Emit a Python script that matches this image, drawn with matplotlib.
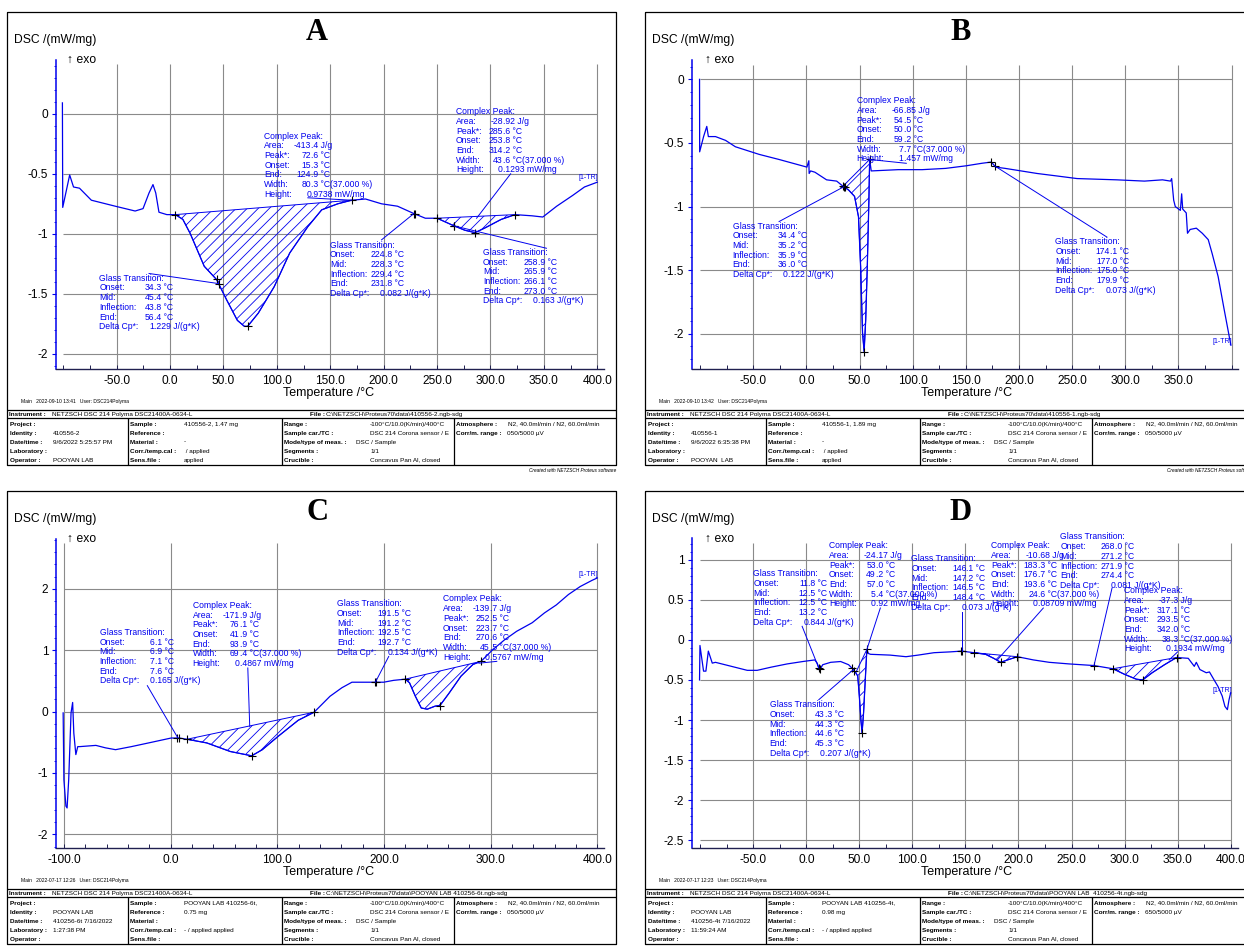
import numpy as np
import matplotlib
matplotlib.use("Agg")
import matplotlib.pyplot as plt
from matplotlib.ticker import MultipleLocator, FixedLocator, FuncFormatter
from matplotlib.transforms import offset_copy

plt.rcParams['font.family'] = ['Liberation Sans', 'DejaVu Sans']
plt.rcParams['hatch.linewidth'] = 0.6

W, H = 1244, 946
BLUE = '#0000ee'
NOTE_FS = 6.2
PITCH = 9.7
TFS = 4.6

# ---- DSC curves (T in degC, DSC in mW/mg)
a_temp = [-100.8, -100.5, -94, -90.4, -84.8, -73.7, -51.3, -32.7, -25.3, -19.7, -16, -13.4,
          -10.4, -3, 5, 12, 19, 32, 43.5, 53, 63, 69.6, 72.6, 82.6, 97.5, 112, 129, 142, 157,
          170, 183, 198, 213, 228, 239, 250, 265, 276, 285.6, 295, 310, 323, 339, 349, 362,
          377, 388, 400]
a_dsc = [0.09, -0.78, -0.51, -0.61, -0.62, -0.72, -0.77, -0.81, -0.79, -0.66, -0.59, -0.66,
         -0.82, -0.84, -0.84, -0.88, -1.0, -1.27, -1.38, -1.55, -1.72, -1.77, -1.77, -1.66,
         -1.44, -1.16, -0.94, -0.80, -0.75, -0.72, -0.71, -0.75, -0.77, -0.83, -0.87, -0.87,
         -0.93, -0.97, -0.99, -0.95, -0.88, -0.84, -0.85, -0.86, -0.77, -0.68, -0.61, -0.57]

b_temp = [-100.5, -100.4, -96.7, -93.7, -92.2, -85.5, -76, -66.8, -44.4, -25.7, 0.5, 2.3, 2.6,
          4, 8, 19, 28.5, 34.4, 39.7, 45.3, 49, 51, 52.8, 54.3, 55.8, 57.3, 58.8, 59.5, 61,
          86.4, 108.9, 131, 150, 165, 174, 178, 187, 217, 236, 254.6, 292, 318, 335, 342.5,
          343.6, 345.5, 347, 351.8, 353, 354, 357.3, 358.5, 361, 366.8, 372.4, 378, 381.7,
          387.3, 393, 399.3]
b_dsc = [0.0, -0.57, -0.45, -0.37, -0.45, -0.45, -0.48, -0.53, -0.59, -0.63, -0.69, -0.64,
         -0.74, -0.72, -0.73, -0.79, -0.80, -0.84, -0.87, -0.92, -1.08, -1.47, -1.99, -2.14,
         -1.89, -1.47, -0.95, -0.63, -0.72, -0.71, -0.71, -0.70, -0.68, -0.66, -0.65, -0.69,
         -0.70, -0.74, -0.76, -0.78, -0.79, -0.80, -0.79, -0.80, -0.78, -0.95, -1.00, -1.03,
         -0.90, -1.02, -1.05, -1.21, -1.18, -1.17, -1.21, -1.26, -1.37, -1.55, -1.81, -2.09]

c_temp = [-100.7, -100, -98.1, -97, -95.5, -93.3, -91.8, -90.7, -88.8, -87, -85, -70, -61,
          -51.6, -36.7, -18, 0.5, 8, 15.4, 34, 56, 76, 86, 101, 119.7, 134.5, 149.4, 160.6,
          170, 190.4, 199.7, 209, 220, 224, 229.5, 235, 240.6, 248, 252.5, 261, 272.3, 283.5,
          291, 302, 313, 324.4, 339, 350.5, 361.6, 373, 384, 395, 400]
c_dsc = [-0.02, -1.11, -1.54, -1.57, -1.11, -0.02, 0.15, -0.35, -0.70, -0.57, -0.57, -0.55,
         -0.59, -0.62, -0.57, -0.50, -0.43, -0.43, -0.45, -0.51, -0.65, -0.72, -0.62, -0.40,
         -0.14, -0.01, 0.25, 0.39, 0.48, 0.48, 0.48, 0.51, 0.53, 0.47, 0.25, 0.06, 0.04, 0.09,
         0.10, 0.30, 0.58, 0.77, 0.82, 1.01, 1.17, 1.31, 1.45, 1.61, 1.74, 1.91, 2.04, 2.14, 2.18]

d_temp = [-100.6, -100.2, -98.3, -96.8, -94.6, -92.3, -88.6, -85.6, -70.6, -55.6, -46.3, -33,
          -18, -3.2, 8, 10.3, 12.5, 15.5, 23, 32.4, 39.9, 43.6, 46.6, 48.5, 50, 51.5, 52.6, 54,
          55.6, 57.1, 58.6, 60.5, 79, 94, 105.4, 120.4, 135.4, 146.6, 157.9, 169, 176.6, 183.3,
          189.7, 199, 214, 229, 247.7, 271, 289, 300, 311, 317, 326, 337.6, 349, 360, 365.7,
          367.6, 371, 377, 380, 384.4, 388, 392, 394.6, 396.9, 398.4, 400]
d_dsc = [-0.50, -0.07, -0.25, -0.39, -0.39, -0.14, -0.29, -0.28, -0.33, -0.38, -0.38, -0.34,
         -0.30, -0.27, -0.25, -0.29, -0.38, -0.31, -0.28, -0.27, -0.31, -0.36, -0.41, -0.45,
         -0.70, -1.0, -1.16, -0.91, -0.50, -0.12, -0.17, -0.18, -0.19, -0.21, -0.19, -0.16,
         -0.15, -0.14, -0.16, -0.18, -0.23, -0.28, -0.25, -0.21, -0.25, -0.28, -0.30, -0.32,
         -0.36, -0.43, -0.49, -0.50, -0.41, -0.31, -0.22, -0.23, -0.33, -0.28, -0.37, -0.41,
         -0.40, -0.50, -0.58, -0.70, -0.83, -0.87, -0.75, -0.66]

# integrated peak limits (degC) and "+" evaluation points
a_peaks = [(5, 170), (250, 323)]
b_peaks = [(34.4, 59.5)]
c_peaks = [(15.4, 134.5), (220, 291)]
d_peaks = [(46.6, 57.1), (157.9, 199), (289, 349)]

a_marks = [5, 170, 72.6, 45.4, 43.5, 228.3, 229.4, 250, 323, 285.6, 265.9, 266.1]
b_marks = [34.4, 35.2, 36.0, 54.3, 59.5, 174.1, 177.0]
c_marks = [6.1, 7.6, 15.4, 76.1, 134.5, 191.5, 192.5, 220, 252.5, 291]
d_marks = [11.8, 13.2, 43.3, 45.3, 52.6, 57.1, 146.1, 146.6, 157.9, 183.3, 199, 271.2, 289,
           317, 349]

peak_keys = ['Area:', 'Peak*:', 'Onset:', 'End:', 'Width:', 'Height:']
gt_keys = ['Onset:', 'Mid:', 'Inflection:', 'End:', 'Delta Cp*:']

# result boxes: (kind, values, text anchor, leader start, leader end T, leader end y or None)
a_notes = [
    ('peak', ['-413.4 J/g', '72.6 °C', '15.3 °C', '124.9 °C', '80.3 °C(37.000 %)', '0.9738 mW/mg'],
     (88.2, -0.186), (129, -0.70), 170, None),
    ('gt', ['34.3 °C', '45.4 °C', '43.8 °C', '56.4 °C', '1.229 J/(g*K)'],
     (-66.2, -1.37), (-19.7, -1.33), 45.4, None),
    ('gt', ['224.8 °C', '228.3 °C', '229.4 °C', '231.8 °C', '0.082 J/(g*K)'],
     (149.6, -1.093), (198, -1.05), 228.3, None),
    ('peak', ['-28.92 J/g', '285.6 °C', '253.8 °C', '314.2 °C', '43.6 °C(37.000 %)', '0.1293 mW/mg'],
     (267.5, 0.017), (318.9, -0.50), 287, -0.87),
    ('gt', ['258.9 °C', '265.9 °C', '266.1 °C', '273.0 °C', '0.163 J/(g*K)'],
     (292.8, -1.154), (352.4, -1.12), 266.1, None),
]
b_notes = [
    ('peak', ['-66.85 J/g', '54.5 °C', '50.0 °C', '59.2 °C', '7.7 °C(37.000 %)', '1.457 mW/mg'],
     (47.2, -0.168), (94, -0.66), 59.5, None),
    ('gt', ['34.4 °C', '35.2 °C', '35.9 °C', '36.0 °C', '0.122 J/(g*K)'],
     (-69.4, -1.154), (-25.7, -1.118), 35.2, None),
    ('gt', ['174.1 °C', '177.0 °C', '175.0 °C', '179.9 °C', '0.073 J/(g*K)'],
     (234.1, -1.277), (282.7, -1.24), 177.0, None),
]
c_notes = [
    ('gt', ['6.1 °C', '6.9 °C', '7.1 °C', '7.6 °C', '0.165 J/(g*K)'],
     (-66.5, 1.293), (-21.8, 0.424), 6.9, None),
    ('peak', ['-171.9 J/g', '76.1 °C', '41.9 °C', '93.9 °C', '69.4 °C(37.000 %)', '0.4867 mW/mg'],
     (20.6, 1.734), (72.4, 0.712), 74.2, -0.24),
    ('gt', ['191.5 °C', '191.2 °C', '192.5 °C', '192.7 °C', '0.134 J/(g*K)'],
     (156.1, 1.76), (204.5, 0.90), 192.0, None),
    ('peak', ['-139.7 J/g', '252.5 °C', '223.7 °C', '270.6 °C', '45.5 °C(37.000 %)', '0.5767 mW/mg'],
     (255.2, 1.837), (305.8, 0.82), 289, 0.79),
]
d_notes = [
    ('gt', ['11.8 °C', '12.5 °C', '12.5 °C', '13.2 °C', '0.844 J/(g*K)'],
     (-50, 0.825), (-3.9, 0.169), 11.8, None),
    ('peak', ['-24.17 J/g', '53.0 °C', '49.2 °C', '57.0 °C', '5.4 °C(37.000 %)', '0.92 mW/mg'],
     (21.2, 1.175), (69.8, 0.397), 57.1, None),
    ('gt', ['146.1 °C', '147.2 °C', '146.5 °C', '148.4 °C', '0.073 J/(g*K)'],
     (99.1, 1.012), (146.6, 0.343), 146.6, None),
    ('peak', ['-10.68 J/g', '183.3 °C', '176.7 °C', '193.6 °C', '24.6 °C(37.000 %)', '0.08709 mW/mg'],
     (174, 1.175), (223.4, 0.397), 180.3, -0.247),
    ('gt', ['268.0 °C', '271.2 °C', '271.9 °C', '274.4 °C', '0.081 J/(g*K)'],
     (239.5, 1.283), (288.2, 0.647), 271.2, None),
    ('peak', ['-37.3 J/g', '317.1 °C', '293.5 °C', '342.0 °C', '38.3 °C(37.000 %)', '0.1934 mW/mg'],
     (299.4, 0.613), (350, -0.15), 342, -0.25),
    ('gt', ['43.3 °C', '44.3 °C', '44.6 °C', '45.3 °C', '0.207 J/(g*K)'],
     (-34.6, -0.808), (11.8, -0.746), 44.3, None),
]

# ---- measurement info tables
range_col = [('Range :', '-100°C/10.0(K/min)/400°C'), ('Sample car./TC :', 'DSC 214 Corona sensor / E'),
             ('Mode/type of meas. :', 'DSC / Sample'), ('Segments :', '1/1'),
             ('Crucible :', 'Concavus Pan Al, closed')]
instrument = 'NETZSCH DSC 214 Polyma DSC21400A-0634-L'

a_info = dict(
    main='Main   2022-09-10 13:41   User: DSC214Polyma',
    file='C:\\NETZSCH\\Proteus70\\data\\410556-2.ngb-sdg',
    col1=[('Project :', ''), ('Identity :', '410556-2'), ('Date/time :', '9/6/2022 5:25:57 PM'),
          ('Laboratory :', ''), ('Operator :', 'POOYAN LAB')],
    col2=[('Sample :', '410556-2, 1.47 mg'), ('Reference :', ''), ('Material :', '-'),
          ('Corr./temp.cal :', ' / applied'), ('Sens.file :', 'applied')],
    corr='050/5000 µV')
b_info = dict(
    main='Main   2022-09-10 13:42   User: DSC214Polyma',
    file='C:\\NETZSCH\\Proteus70\\data\\410556-1.ngb-sdg',
    col1=[('Project :', ''), ('Identity :', '410556-1'), ('Date/time :', '9/6/2022 6:35:38 PM'),
          ('Laboratory :', ''), ('Operator :', 'POOYAN  LAB')],
    col2=[('Sample :', '410556-1, 1.89 mg'), ('Reference :', ''), ('Material :', '-'),
          ('Corr./temp.cal :', ' / applied'), ('Sens.file :', 'applied')],
    corr='050/5000 µV')
c_info = dict(
    main='Main   2022-07-17 12:26   User: DSC214Polyma',
    file='C:\\NETZSCH\\Proteus70\\data\\POOYAN LAB 410256-6t.ngb-sdg',
    col1=[('Project :', ''), ('Identity :', 'POOYAN LAB'), ('Date/time :', '410256-6t 7/16/2022'),
          ('Laboratory :', '1:27:38 PM'), ('Operator :', '')],
    col2=[('Sample :', 'POOYAN LAB 410256-6t,'), ('Reference :', '0.75 mg'), ('Material :', ''),
          ('Corr./temp.cal :', '- / applied applied'), ('Sens.file :', '')],
    corr='050/5000 µV')
d_info = dict(
    main='Main   2022-07-17 12:23   User: DSC214Polyma',
    file='C:\\NETZSCH\\Proteus70\\data\\POOYAN LAB  410256-4t.ngb-sdg',
    col1=[('Project :', ''), ('Identity :', 'POOYAN LAB'), ('Date/time :', '410256-4t 7/16/2022'),
          ('Laboratory :', '11:59:24 AM'), ('Operator :', '')],
    col2=[('Sample :', 'POOYAN LAB 410256-4t,'), ('Reference :', '0.98 mg'), ('Material :', ''),
          ('Corr./temp.cal :', '- / applied applied'), ('Sens.file :', '')],
    corr='650/5000 µV')

panels = [
    dict(name='A', ox=7, oy=12, tx=317, rect=(56, 60, 604, 369), xlim=(-106.8, 406.3),
         ylim=(-2.125, 0.447), xt=list(range(-50, 401, 50)), vg=list(range(-50, 401, 50)),
         xminor=25, yt=[0, -0.5, -1, -1.5, -2], yminor=0.1, gtop=0.41,
         temp=a_temp, dsc=a_dsc, peaks=a_peaks, marks=a_marks, notes=a_notes, info=a_info,
         tr=(382, -0.53)),
    dict(name='B', ox=645, oy=12, tx=961, rect=(692, 60, 1238, 369), xlim=(-107.6, 406),
         ylim=(-2.277, 0.152), xt=list(range(-50, 351, 50)), vg=list(range(-50, 401, 50)),
         xminor=25, yt=[0, -0.5, -1, -1.5, -2], yminor=0.1, gtop=0.11,
         temp=b_temp, dsc=b_dsc, peaks=b_peaks, marks=b_marks, notes=b_notes, info=b_info,
         tr=(381.7, -2.06)),
    dict(name='C', ox=7, oy=491, tx=317, rect=(56, 539, 604, 848), xlim=(-107.4, 406.3),
         ylim=(-2.223, 2.815), xt=list(range(-100, 401, 100)), vg=list(range(-100, 401, 100)),
         xminor=20, yt=[2, 1, 0, -1, -2], yminor=0.2, gtop=2.75,
         temp=c_temp, dsc=c_dsc, peaks=c_peaks, marks=c_marks, notes=c_notes, info=c_info,
         tr=(382, 2.23)),
    dict(name='D', ox=645, oy=491, tx=961, rect=(692, 538, 1238, 848), xlim=(-107.7, 406.9),
         ylim=(-2.595, 1.27), xt=list(range(-50, 401, 50)), vg=list(range(-50, 401, 50)),
         xminor=25, yt=[1, 0.5, 0, -0.5, -1, -1.5, -2, -2.5], yminor=0.1, gtop=1.21,
         temp=d_temp, dsc=d_dsc, peaks=d_peaks, marks=d_marks, notes=d_notes, info=d_info,
         tr=(382.5, -0.63)),
]

fig = plt.figure(figsize=(W / 100, H / 100), dpi=100)
bg = fig.add_axes([0, 0, 1, 1])
bg.set_xlim(0, W)
bg.set_ylim(H, 0)
bg.axis('off')


def draw_table(ox, oy, info):
    k = dict(color='black', lw=0.9, solid_capstyle='butt')
    r = ox + 609
    bg.plot([ox, r, r, ox, ox], [oy, oy, oy + 453, oy + 453, oy], **k)
    bg.plot([ox, r], [oy + 398, oy + 398], **k)
    bg.plot([ox, r], [oy + 406, oy + 406], **k)
    for cx in (121, 275, 447):
        bg.plot([ox + cx, ox + cx], [oy + 406, oy + 453], **k)
    t = dict(fontsize=TFS, va='center', ha='left', color='black')
    bg.text(ox + 14, oy + 389, info['main'], fontsize=3.6, va='center')
    bg.text(ox + 2, oy + 402, 'Instrument :', fontweight='bold', **t)
    bg.text(ox + 45, oy + 402, instrument, **t)
    bg.text(ox + 303, oy + 402, 'File :', fontweight='bold', **t)
    bg.text(ox + 319, oy + 402, info['file'], **t)
    for i in range(5):
        y = oy + 412 + 9 * i
        lab, val = info['col1'][i]
        bg.text(ox + 3, y, lab, fontweight='bold', **t)
        bg.text(ox + 46, y, val, **t)
        lab, val = info['col2'][i]
        bg.text(ox + 123, y, lab, fontweight='bold', **t)
        bg.text(ox + 177, y, val, **t)
        lab, val = range_col[i]
        bg.text(ox + 277, y, lab, fontweight='bold', **t)
        bg.text(ox + (349 if i == 2 else 363), y, val, **t)
    bg.text(ox + 449, oy + 412, 'Atmosphere :', fontweight='bold', **t)
    bg.text(ox + 501, oy + 412, 'N2, 40.0ml/min / N2, 60.0ml/min', **t)
    bg.text(ox + 449, oy + 421, 'Corr/m. range :', fontweight='bold', **t)
    bg.text(ox + 500, oy + 421, info['corr'], **t)
    bg.text(r, oy + 458, 'Created with NETZSCH Proteus software', fontsize=3.4,
            style='italic', ha='right', va='center')


def draw_note(ax, x, y, title, keys, vals, col):
    rows = [(title, '')] + list(zip(keys, vals))
    for i, (lab, val) in enumerate(rows):
        tr = offset_copy(ax.transData, fig=fig, x=0, y=-i * PITCH, units='dots')
        ax.text(x, y, lab, transform=tr, fontsize=NOTE_FS, color=BLUE, va='center', ha='left')
        if val:
            head, tail = val.split('.', 1)
            tr = offset_copy(ax.transData, fig=fig, x=col, y=-i * PITCH, units='dots')
            ax.text(x, y, head, transform=tr, fontsize=NOTE_FS, color=BLUE, va='center', ha='right')
            ax.text(x, y, '.' + tail, transform=tr, fontsize=NOTE_FS, color=BLUE, va='center',
                    ha='left')


for p in panels:
    ox, oy = p['ox'], p['oy']
    draw_table(ox, oy, p['info'])
    bg.text(p['tx'], oy + 21, p['name'], fontsize=22, fontweight='bold',
            family='Liberation Serif', ha='center', va='center')
    bg.text(ox + 7, oy + 28, 'DSC /(mW/mg)', fontsize=8.7, va='center')
    bg.text(ox + 60, oy + 48, '↑ exo', fontsize=8.7, va='center')
    bg.text(ox + 322, oy + 381, 'Temperature /°C', fontsize=9, ha='center', va='center')

    l, t, r, b = p['rect']
    ax = fig.add_axes([l / W, 1 - b / H, (r - l) / W, (b - t) / H])
    ax.set_facecolor('none')
    ax.set_xlim(p['xlim'])
    ax.set_ylim(p['ylim'])
    for s in ('top', 'right'):
        ax.spines[s].set_visible(False)
    ax.spines['left'].set_color(BLUE)
    ax.spines['left'].set_linewidth(1.1)
    ax.spines['bottom'].set_color('#202050')
    ax.spines['bottom'].set_linewidth(1.0)

    # grid box
    ax.hlines(p['yt'], -100, 400, color='#8a8a8a', lw=0.8, zorder=0)
    ax.vlines(p['vg'], p['ylim'][0], p['gtop'], color='#8a8a8a', lw=0.8, zorder=0)

    ax.xaxis.set_major_locator(FixedLocator(p['xt']))
    ax.xaxis.set_minor_locator(MultipleLocator(p['xminor']))
    ax.xaxis.set_major_formatter(FuncFormatter(lambda v, pos: '%.1f' % v))
    ax.yaxis.set_major_locator(FixedLocator(p['yt']))
    ax.yaxis.set_minor_locator(MultipleLocator(p['yminor']))
    ax.yaxis.set_major_formatter(FuncFormatter(lambda v, pos: '%g' % v))
    ax.tick_params(axis='x', which='both', direction='in', length=3, width=0.7,
                   color='#202050', labelsize=8.6, pad=4.5)
    ax.tick_params(axis='y', which='major', direction='out', length=3, width=0.8,
                   color=BLUE, labelsize=8.6, pad=2.5)
    ax.tick_params(axis='y', which='minor', direction='out', length=1.8, width=0.6, color=BLUE)

    temp = np.array(p['temp'])
    dsc = np.array(p['dsc'])
    for t1, t2 in p['peaks']:
        sel = (temp >= t1) & (temp <= t2)
        ax.fill(temp[sel], dsc[sel], facecolor='none', edgecolor=BLUE, hatch='///', lw=0.7)
    ax.plot(temp, dsc, color=BLUE, lw=0.9)
    m = np.array(p['marks'])
    ax.plot(m, np.interp(m, temp, dsc), '+', color='black', ms=6, mew=0.8)

    for kind, vals, (nx, ny), (lx, ly), ex, ey in p['notes']:
        if kind == 'peak':
            draw_note(ax, nx, ny, 'Complex Peak:', peak_keys, vals, 47)
        else:
            draw_note(ax, nx, ny, 'Glass Transition:', gt_keys, vals, 55)
        if ey is None:
            ey = np.interp(ex, temp, dsc)
        ax.plot([lx, ex], [ly, ey], color=BLUE, lw=0.7)

    ax.text(p['tr'][0], p['tr'][1], '[1-TR]', fontsize=5, color=BLUE, va='center', ha='left')

fig.savefig('out.png', dpi=100)
